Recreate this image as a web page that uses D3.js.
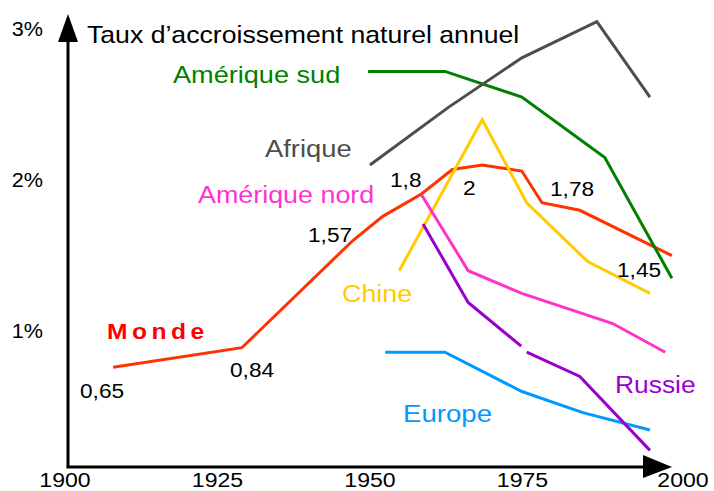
<!DOCTYPE html>
<html>
<head>
<meta charset="utf-8">
<script src="https://cdn.jsdelivr.net/npm/d3@7"></script>
<style>
  html, body { margin: 0; padding: 0; background: #fff; }
  svg { display: block; }
  text { font-family: "Liberation Sans", Arial, sans-serif; }
</style>
</head>
<body>
<svg id="chart" width="714" height="491"></svg>
<script>
// ---- Data ----
const xTicks = [1900, 1925, 1950, 1975, 2000];
const yTicks = [1, 2, 3];
const yTickLabels = ["1%", "2%", "3%"];

const mondeYears  = [1907.4, 1928.5, 1946.7, 1951.6, 1958, 1963, 1967.9, 1974.4, 1977.7, 1983.9, 1999];
const mondeValues = [0.66, 0.79, 1.50, 1.66, 1.81, 1.97, 2.00, 1.96, 1.75, 1.70, 1.40];

const afriqueYears  = [1949.5, 1962.3, 1974.4, 1986.7, 1995.4];
const afriqueValues = [2.00, 2.38, 2.71, 2.95, 2.45];

const amSudYears  = [1949.2, 1961.8, 1974.4, 1988.0, 1999.0];
const amSudValues = [2.62, 2.62, 2.45, 2.05, 1.25];

const chineYears  = [1954.3, 1967.9, 1975.2, 1985.2, 1995.4];
const chineValues = [1.30, 2.30, 1.75, 1.36, 1.15];

const amNordYears  = [1958.0, 1965.6, 1974.4, 1989.3, 1997.9];
const amNordValues = [1.80, 1.30, 1.15, 0.95, 0.76];

const russieYears  = [1958.2, 1965.6, 1974.3, 1974.7, 1975.2, 1983.9, 1995.4];
const russieValues = [1.61, 1.09, 0.80, null, 0.76, 0.60, 0.11];

const europeYears  = [1952.0, 1961.8, 1974.4, 1984.4, 1995.4];
const europeValues = [0.76, 0.76, 0.50, 0.36, 0.245];

const mondeValueLabels = ["0,65", "0,84", "1,57", "1,8", "2", "1,78", "1,45"];
const title = "Taux d’accroissement naturel annuel";

// ---- Layout ----
const svg = d3.select("#chart");
const x = d3.scaleLinear().domain([1900, 2000]).range([68, 678]);
const y = d3.scaleLinear().domain([0, 3]).range([467, 14]);
const STRETCH = 1.1;

function label(txt, px, py, opts) {
  const t = svg.append("text")
    .attr("transform", `translate(${px},${py}) scale(${opts.stretch || STRETCH},1)`)
    .attr("font-size", opts.size)
    .attr("fill", opts.color || "#000")
    .attr("text-anchor", opts.anchor || "start")
    .text(txt);
  if (opts.bold) t.attr("font-weight", "bold");
  if (opts.ls) t.attr("letter-spacing", opts.ls);
  return t;
}

// ---- Series lines ----
const series = [
  { years: europeYears,  values: europeValues,  color: "#0099ff" },
  { years: mondeYears,   values: mondeValues,   color: "#ff3300" },
  { years: chineYears,   values: chineValues,   color: "#ffcc00" },
  { years: amNordYears,  values: amNordValues,  color: "#ff33cc" },
  { years: russieYears,  values: russieValues,  color: "#9900cc" },
  { years: amSudYears,   values: amSudValues,   color: "#008000" },
  { years: afriqueYears, values: afriqueValues, color: "#4d4d4d" }
];

const line = d3.line()
  .defined(d => d[1] !== null)
  .x(d => x(d[0]))
  .y(d => y(d[1]));

series.forEach(s => {
  const pts = s.years.map((yr, i) => [yr, s.values[i]]);
  svg.append("path")
    .attr("d", line(pts))
    .attr("fill", "none")
    .attr("stroke", s.color)
    .attr("stroke-width", 3)
    .attr("stroke-linejoin", "miter")
    .attr("stroke-linecap", "butt");
});

// ---- Axes ----
const axisG = svg.append("g");
axisG.append("line")
  .attr("x1", x(1900)).attr("y1", y(0))
  .attr("x2", x(1900)).attr("y2", y(2.9))
  .attr("stroke", "#000").attr("stroke-width", 3);
axisG.append("line")
  .attr("x1", x(1900) - 1.5).attr("y1", y(0))
  .attr("x2", x(1996)).attr("y2", y(0))
  .attr("stroke", "#000").attr("stroke-width", 3);
// arrowheads
axisG.append("path")
  .attr("d", `M${x(1900) - 10},${y(0) - 425} L${x(1900) + 10},${y(0) - 425} L${x(1900)},${y(3)} Z`)
  .attr("fill", "#000");
axisG.append("path")
  .attr("d", `M${x(1900) + 575},${y(0) - 12} L${x(1900) + 575},${y(0) + 11} L${x(1900) + 604},${y(0)} Z`)
  .attr("fill", "#000");

// tick labels
xTicks.forEach((t, i) => {
  const dx = (i === xTicks.length - 1) ? 5 : -3;
  label(String(t), x(t) + dx, 487, { size: 21, anchor: "middle", stretch: 1.1 });
});
yTicks.forEach((t, i) => {
  label(yTickLabels[i], 43, y(t) + 22, { size: 21, anchor: "end", stretch: 1.03 });
});

// ---- Texts ----
label(title, 87, 43, { size: 24, stretch: 1.11 });
label("Amérique sud", 173, 83, { size: 24, color: "#008000", stretch: 1.13 });
label("Afrique", 265, 157, { size: 24, color: "#4d4d4d", stretch: 1.14 });
label("Amérique nord", 198, 203, { size: 24, color: "#ff33cc", stretch: 1.12 });
label("Chine", 342, 302, { size: 24, color: "#ffcc00", stretch: 1.12 });
label("Russie", 615, 393, { size: 24, color: "#9900cc", stretch: 1.1 });
label("Europe", 403, 422, { size: 24, color: "#0099ff", stretch: 1.15 });
label("Monde", 107, 339, { size: 22, color: "#ff0000", bold: true, ls: 4, stretch: 1.12 });

const valuePos = [[80, 398], [230, 377], [308, 242], [390, 187], [463, 195], [550, 196], [617, 277]];
mondeValueLabels.forEach((t, i) => {
  label(t, valuePos[i][0], valuePos[i][1], { size: 21, stretch: 1.08 });
});
</script>
</body>
</html>
